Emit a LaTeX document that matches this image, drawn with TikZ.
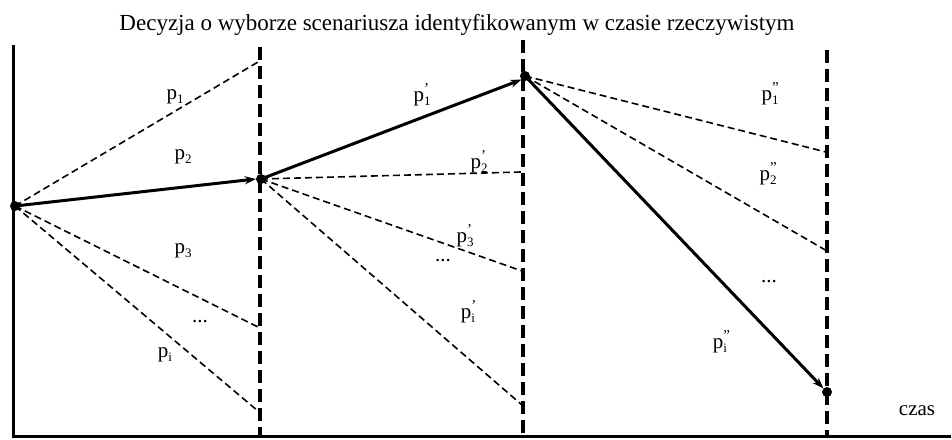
\documentclass[tikz,border=0pt]{standalone}
\usepackage{fontspec}
\setmainfont{Liberation Serif}
\usetikzlibrary{arrows.meta}
\newcommand{\plab}[2]{p\rlap{\raisebox{0.85ex}{\fontsize{15}{15}\selectfont #1}}\raisebox{-0.4ex}{\fontsize{13}{13}\selectfont #2}}
\begin{document}
\begin{tikzpicture}[x=1pt,y=-1pt,
  axis/.style={line width=3pt},
  guide/.style={line width=3.6pt,dash pattern=on 13pt off 6pt},
  branch/.style={line width=1.6pt,dash pattern=on 7pt off 4pt},
  chosen/.style={line width=3pt,-{Stealth[length=11pt,width=8pt]}},
  dot/.style={circle,fill=black,inner sep=0pt,minimum size=10pt},
  lab/.style={font=\fontsize{21}{24}\selectfont,inner sep=0pt}]
\useasboundingbox (0,0) rectangle (952,439);
% axes
\coordinate (O) at (13,436);
\coordinate (Ytop) at (13,45);
\coordinate (Xend) at (951,436);
\draw[axis] (Ytop) -- (O) -- (Xend);
% guides
\coordinate (g1t) at (260,47); \coordinate (g1b) at (260,436);
\coordinate (g2t) at (523,40); \coordinate (g2b) at (523,436);
\coordinate (g3t) at (827,50); \coordinate (g3b) at (827,436);
\draw[guide] (g1t) -- (g1b);
\draw[guide] (g2t) -- (g2b);
\draw[guide] (g3t) -- (g3b);
% points
\node[dot] (A) at (15,206) {};
\node[dot] (B) at (261,179) {};
\node[dot] (C) at (525,76) {};
\node[dot] (D) at (827,392) {};
% branch ends
\coordinate (a1) at (258,62);
\coordinate (a3) at (258,327);
\coordinate (ai) at (258,411);
\coordinate (b2) at (521,172);
\coordinate (b3) at (522,271);
\coordinate (bi) at (522,405);
\coordinate (c1) at (826,152);
\coordinate (c2) at (827,251);
\draw[branch] (A.center) -- (a1);
\draw[branch] (A.center) -- (a3);
\draw[branch] (A.center) -- (ai);
\draw[branch] (B.center) -- (b2);
\draw[branch] (B.center) -- (b3);
\draw[branch] (B.center) -- (bi);
\draw[branch] (C.center) -- (c1);
\draw[branch] (C.center) -- (c2);
\draw[chosen] (A.center) -- (B.west);
\draw[chosen] (B.center) -- (C.south west);
\draw[chosen] (C.center) -- (D.north west);
% title
\node[lab,font=\fontsize{23}{26}\selectfont] (title) at (457,25) {Decyzja o wyborze scenariusza identyfikowanym w czasie rzeczywistym};
% labels
\node[lab] (l1) at (175,97) {\plab{}{1}};
\node[lab] (l2) at (183,157) {\plab{}{2}};
\node[lab] (l3) at (183,251) {\plab{}{3}};
\node[lab] (ld1) at (200,322) {...};
\node[lab] (li) at (165,355) {\plab{}{i}};
\node[lab] (m1) at (422,95) {\plab{’}{1}};
\node[lab] (m2) at (479,162) {\plab{’}{2}};
\node[lab] (m3) at (465,236) {\plab{’}{3}};
\node[lab] (md) at (443,261) {...};
\node[lab] (mi) at (468,312) {\plab{’}{i}};
\node[lab] (n1) at (770,94) {\plab{”}{1}};
\node[lab] (n2) at (768,174) {\plab{”}{2}};
\node[lab] (nd) at (769,282) {...};
\node[lab] (ni) at (720,342) {\plab{”}{i}};
\node[lab] (czas) at (917,411) {czas};
\end{tikzpicture}
\end{document}
